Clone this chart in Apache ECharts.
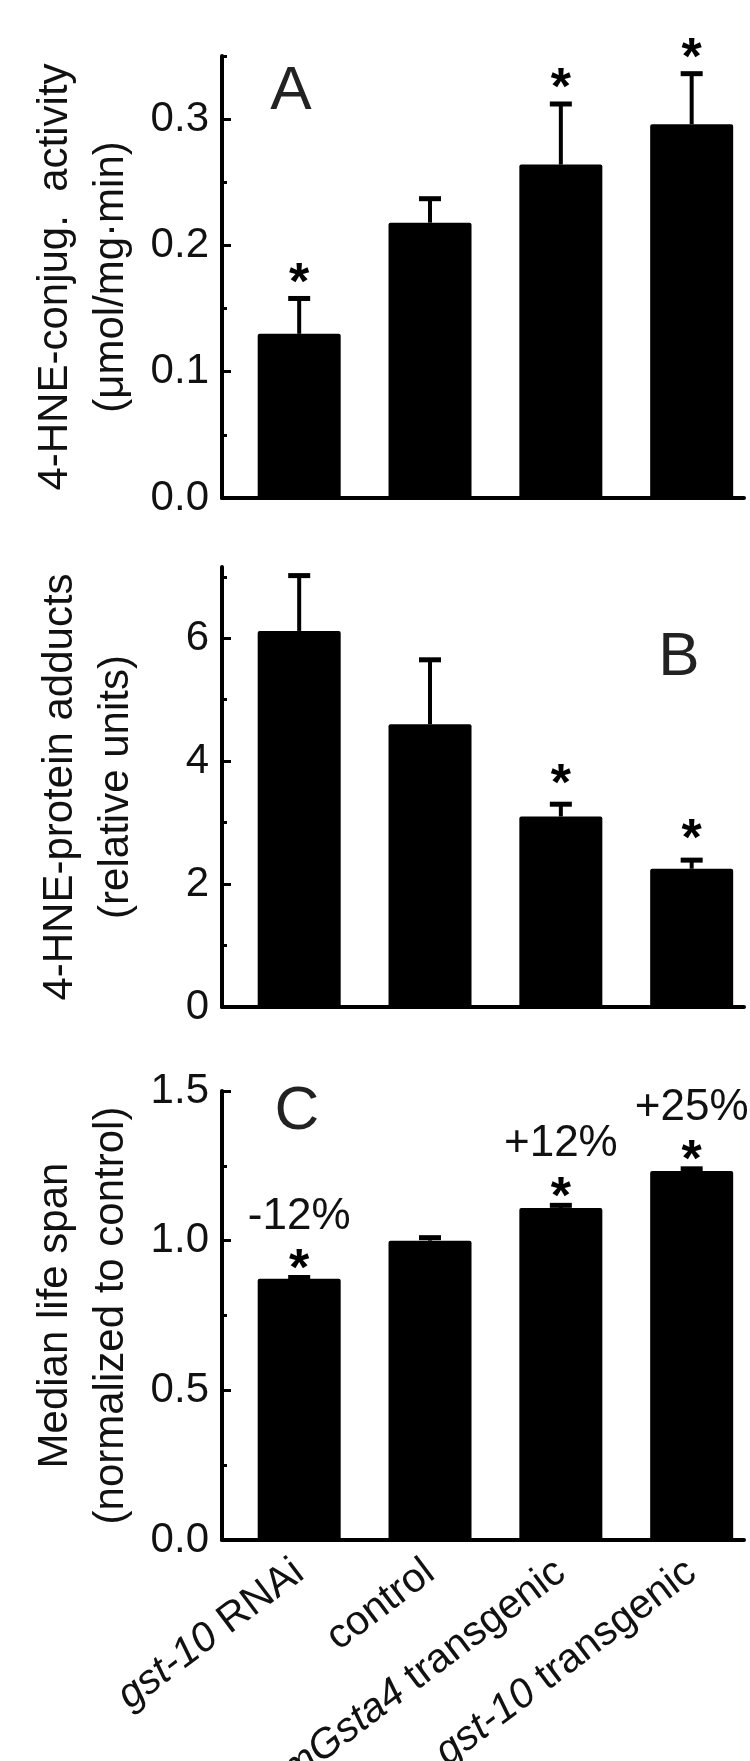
<!DOCTYPE html>
<html>
<head>
<meta charset="utf-8">
<script src="https://cdn.jsdelivr.net/npm/echarts@6/dist/echarts.min.js"></script>
<style>
  html, body { margin: 0; padding: 0; background: #fff; }
  #chart { width: 750px; height: 1761px; }
</style>
</head>
<body>
<div id="chart"></div>
<script>
const categories = ['gst-10 RNAi', 'control', 'mGsta4 transgenic', 'gst-10 transgenic'];
const italicGenes = ['gst-10', 'mGsta4'];

// panel A: 4-HNE conjugating activity
const activity = [0.130, 0.218, 0.264, 0.296];
const activityErr = [0.028, 0.019, 0.048, 0.040];
const starsA = [1, 0, 1, 1];
const ticksA = [0, 0.1, 0.2, 0.3];
const minorA = [0.05, 0.15, 0.25, 0.35];

// panel B: 4-HNE protein adducts
const adducts = [6.12, 4.60, 3.10, 2.25];
const adductsErr = [0.90, 1.05, 0.20, 0.14];
const starsB = [0, 0, 1, 1];
const ticksB = [0, 2, 4, 6];
const minorB = [1, 3, 5, 7];

// panel C: median life span
const lifespan = [0.873, 1.0, 1.109, 1.233];
const lifespanErr = [0.004, 0.01, 0.009, 0.007];
const starsC = [1, 0, 1, 1];
const changeC = ['-12%', '', '+12%', '+25%'];
const ticksC = [0, 0.5, 1.0, 1.5];
const minorC = [0.25, 0.75, 1.25];

const FONT = '"Liberation Sans", Arial, sans-serif';
const INK = '#111';

const panels = [
  { letter: 'A', top: 56, height: 442, max: 0.35, values: activity, errs: activityErr, stars: starsA, notes: null,
    ticks: ticksA, minor: minorA, digits: 1, name: '4-HNE-conjug.  activity\n(\u03bcmol/mg\u00b7min)', letterAt: [291, 92], starGap: 26 },
  { letter: 'B', top: 567, height: 440, max: 7.16, values: adducts, errs: adductsErr, stars: starsB, notes: null,
    ticks: ticksB, minor: minorB, digits: 0, name: '4-HNE-protein adducts\n(relative units)', letterAt: [679, 658], starGap: 31 },
  { letter: 'C', top: 1091, height: 449, max: 1.5, values: lifespan, errs: lifespanErr, stars: starsC, notes: changeC,
    ticks: ticksC, minor: minorC, digits: 1, name: 'Median life span\n(normalized to control)', letterAt: [297, 1112], starGap: 19 }
];

function labelRich(name) {
  const gene = italicGenes.find((g) => name.startsWith(g));
  if (!gene) return '{r|' + name + '}';
  return '{i|' + gene + '}{r|' + name.slice(gene.length) + '}';
}

const grids = [];
const xAxes = [];
const yAxes = [];
const series = [];
const graphics = [];

panels.forEach((p, i) => {
  const last = i === panels.length - 1;
  grids.push({ left: 222, top: p.top, width: 522, height: p.height, containLabel: false, outerBoundsMode: 'none' });

  xAxes.push({
    type: 'value', gridIndex: i, min: -0.59, max: 3.4, position: 'bottom',
    axisLine: { show: true, onZero: false, lineStyle: { color: '#000', width: 4 } },
    axisTick: { show: false },
    splitLine: { show: false },
    axisLabel: last ? {
      show: true, customValues: [0, 1, 2, 3], rotate: 37, margin: 28,
      fontSize: 41, fontFamily: FONT, color: INK,
      formatter: (v) => labelRich(categories[Math.round(v)]),
      rich: {
        i: { fontStyle: 'italic', fontSize: 41, fontFamily: FONT, color: INK },
        r: { fontSize: 41, fontFamily: FONT, color: INK }
      }
    } : { show: false }
  });

  yAxes.push({
    type: 'value', gridIndex: i, min: 0, max: p.max, position: 'left',
    name: p.name, nameLocation: 'middle', nameGap: 78,
    nameTextStyle: { fontSize: 42, lineHeight: 56, fontFamily: FONT, color: INK },
    axisLine: { show: true, onZero: false, lineStyle: { color: '#000', width: 4 } },
    axisTick: { show: true, inside: true, length: 9, customValues: p.ticks, lineStyle: { color: '#000', width: 3 } },
    axisLabel: { show: true, customValues: p.ticks, margin: 13, fontSize: 42, fontFamily: FONT, color: INK,
      formatter: (v) => v.toFixed(p.digits) },
    splitLine: { show: false }
  });
  yAxes.push({
    type: 'value', gridIndex: i, min: 0, max: p.max, position: 'left', offset: 0,
    axisLine: { show: false, onZero: false },
    axisTick: { show: true, inside: true, length: 5, customValues: p.minor, lineStyle: { color: '#000', width: 3 } },
    axisLabel: { show: false },
    splitLine: { show: false }
  });

  series.push({
    type: 'bar', xAxisIndex: i, yAxisIndex: 2 * i,
    data: p.values.map((v, k) => [k, v]),
    barWidth: 83,
    itemStyle: { color: '#000', borderRadius: [2, 2, 0, 0] },
    silent: true
  });

  series.push({
    type: 'custom', xAxisIndex: i, yAxisIndex: 2 * i, z: 3,
    data: p.values.map((v, k) => [k, v, p.errs[k]]),
    renderItem: (params, api) => {
      const k = params.dataIndex;
      const x = api.value(0);
      const v = api.value(1);
      const e = api.value(2);
      const base = api.coord([x, v]);
      const top = api.coord([x, v + e]);
      const children = [
        { type: 'line', shape: { x1: base[0], y1: base[1], x2: top[0], y2: top[1] }, style: { stroke: '#000', lineWidth: 4 } },
        { type: 'line', shape: { x1: top[0] - 11, y1: top[1], x2: top[0] + 11, y2: top[1] }, style: { stroke: '#000', lineWidth: 5 } }
      ];
      const starY = top[1] - p.starGap;
      if (p.stars[k]) {
        children.push({ type: 'text', x: top[0], y: starY + 12,
          style: { text: '*', fontSize: 52, fontWeight: 'bold', fontFamily: FONT, fill: '#000', textAlign: 'center', textVerticalAlign: 'middle' } });
      }
      if (p.notes && p.notes[k]) {
        children.push({ type: 'text', x: top[0], y: starY - 42,
          style: { text: p.notes[k], fontSize: 44, fontFamily: FONT, fill: INK, textAlign: 'center', textVerticalAlign: 'middle' } });
      }
      return { type: 'group', children };
    }
  });

  graphics.push({
    type: 'text', x: p.letterAt[0], y: p.letterAt[1],
    style: { text: p.letter, fontSize: 62, fontFamily: FONT, fill: '#222', textAlign: 'center', textVerticalAlign: 'middle' }
  });
});

const chart = echarts.init(document.getElementById('chart'), null, { renderer: 'canvas' });
chart.setOption({
  backgroundColor: '#fff',
  animation: false,
  grid: grids,
  xAxis: xAxes,
  yAxis: yAxes,
  series,
  graphic: graphics
});
</script>
</body>
</html>
